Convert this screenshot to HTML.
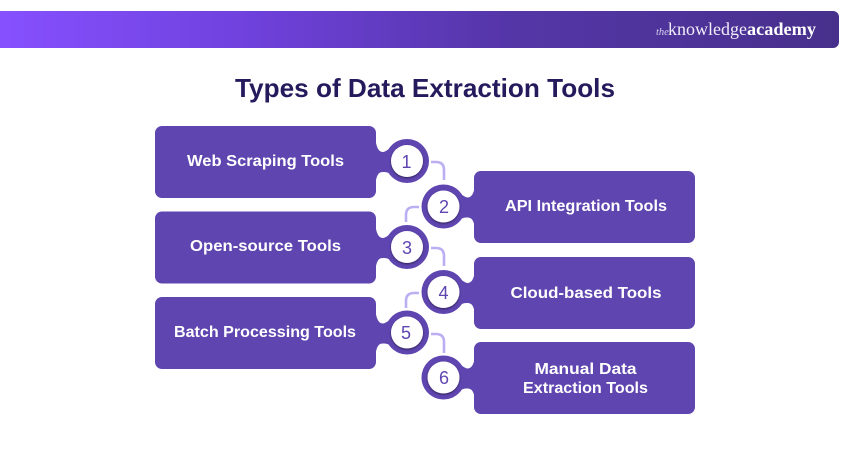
<!DOCTYPE html>
<html>
<head>
<meta charset="utf-8">
<style>
html,body{margin:0;padding:0;background:#fff;width:850px;height:450px;overflow:hidden}
svg{display:block}
text{font-family:"Liberation Sans",sans-serif}
</style>
</head>
<body>
<svg width="850" height="450" viewBox="0 0 850 450" xmlns="http://www.w3.org/2000/svg">
<defs>
<linearGradient id="bar" x1="0" y1="0" x2="1" y2="0">
<stop offset="0" stop-color="#8650ff"/>
<stop offset="0.3" stop-color="#6f41dc"/>
<stop offset="0.6" stop-color="#5536a8"/>
<stop offset="1" stop-color="#47308c"/>
</linearGradient>
<filter id="sh" x="-30%" y="-30%" width="160%" height="160%">
<feDropShadow dx="0" dy="1" stdDeviation="1" flood-color="#000" flood-opacity="0.55"/>
</filter>
<g id="nl">
<path d="M-32 -25 C-31 -15 -29 -9 -24 -9 C-22 -9 -20 -11 -16 -13 L-16 13 C-20 11 -22 11 -24 11 C-29 11 -31 15 -32 27 Z" fill="#5f45b0"/>
<circle cx="0" cy="0" r="22" fill="#5f45b0"/>
<circle cx="0" cy="0" r="16" fill="#fff" filter="url(#sh)"/>
</g>
<g id="nr">
<path d="M32 -25 C31 -15 29 -9 24 -9 C22 -9 20 -11 16 -13 L16 13 C20 11 22 11 24 11 C29 11 31 15 32 27 Z" fill="#5f45b0"/>
<circle cx="0" cy="0" r="22" fill="#5f45b0"/>
<circle cx="0" cy="0" r="16" fill="#fff" filter="url(#sh)"/>
</g>
</defs>

<path d="M0 11 H833 a6 6 0 0 1 6 6 V42 a6 6 0 0 1 -6 6 H0 Z" fill="url(#bar)"/>
<text x="656" y="35" font-style="italic" font-size="10.5" fill="#d9d0f2" style="font-family:'Liberation Serif',serif">the</text>
<text x="668" y="35" font-size="17.5" fill="#f1edfa" style="font-family:'Liberation Serif',serif" textLength="79" lengthAdjust="spacingAndGlyphs">knowledge</text>
<text x="747" y="35" font-size="17.5" font-weight="700" fill="#fff" style="font-family:'Liberation Serif',serif" textLength="69" lengthAdjust="spacingAndGlyphs">academy</text>

<text x="425" y="97" text-anchor="middle" font-size="26" font-weight="700" fill="#251a5c" textLength="380" lengthAdjust="spacingAndGlyphs">Types of Data Extraction Tools</text>

<g fill="none" stroke="#bcaef2" stroke-width="2.6">
<path d="M431 162 H436 Q444 162 444 170 V180"/>
<path d="M419 207 H414 Q406 207 406 215 V222"/>
<path d="M431 248 H436 Q444 248 444 256 V266"/>
<path d="M419 293 H414 Q406 293 406 301 V308"/>
<path d="M431 334 H436 Q444 334 444 342 V353"/>
</g>

<g fill="#5f45b0">
<rect x="155" y="126" width="221" height="72" rx="7"/>
<rect x="155" y="211.500" width="221" height="72" rx="7"/>
<rect x="155" y="297" width="221" height="72" rx="7"/>
<rect x="474" y="171" width="221" height="72" rx="7"/>
<rect x="474" y="257" width="221" height="72" rx="7"/>
<rect x="474" y="342" width="221" height="72" rx="7"/>
</g>

<use href="#nl" x="407" y="161"/>
<use href="#nr" x="443.500" y="206.500"/>
<use href="#nl" x="407" y="247"/>
<use href="#nr" x="443.500" y="292"/>
<use href="#nl" x="407" y="332.500"/>
<use href="#nr" x="443.500" y="377.500"/>

<g font-size="18" fill="#5f45b0" text-anchor="middle">
<text x="406.500" y="168">1</text>
<text x="444" y="213">2</text>
<text x="407" y="254">3</text>
<text x="443.500" y="299">4</text>
<text x="406" y="339">5</text>
<text x="444" y="384">6</text>
</g>

<g font-size="15.5" font-weight="700" fill="#fff" text-anchor="middle">
<text x="265.500" y="166" textLength="157" lengthAdjust="spacingAndGlyphs">Web Scraping Tools</text>
<text x="265.500" y="251" textLength="151" lengthAdjust="spacingAndGlyphs">Open-source Tools</text>
<text x="265" y="337" textLength="182" lengthAdjust="spacingAndGlyphs">Batch Processing Tools</text>
<text x="586" y="211" textLength="162" lengthAdjust="spacingAndGlyphs">API Integration Tools</text>
<text x="586" y="298" textLength="151" lengthAdjust="spacingAndGlyphs">Cloud-based Tools</text>
<text x="585.500" y="374" textLength="102" lengthAdjust="spacingAndGlyphs">Manual Data</text>
<text x="585.500" y="393" textLength="125" lengthAdjust="spacingAndGlyphs">Extraction Tools</text>
</g>
</svg>
</body>
</html>
